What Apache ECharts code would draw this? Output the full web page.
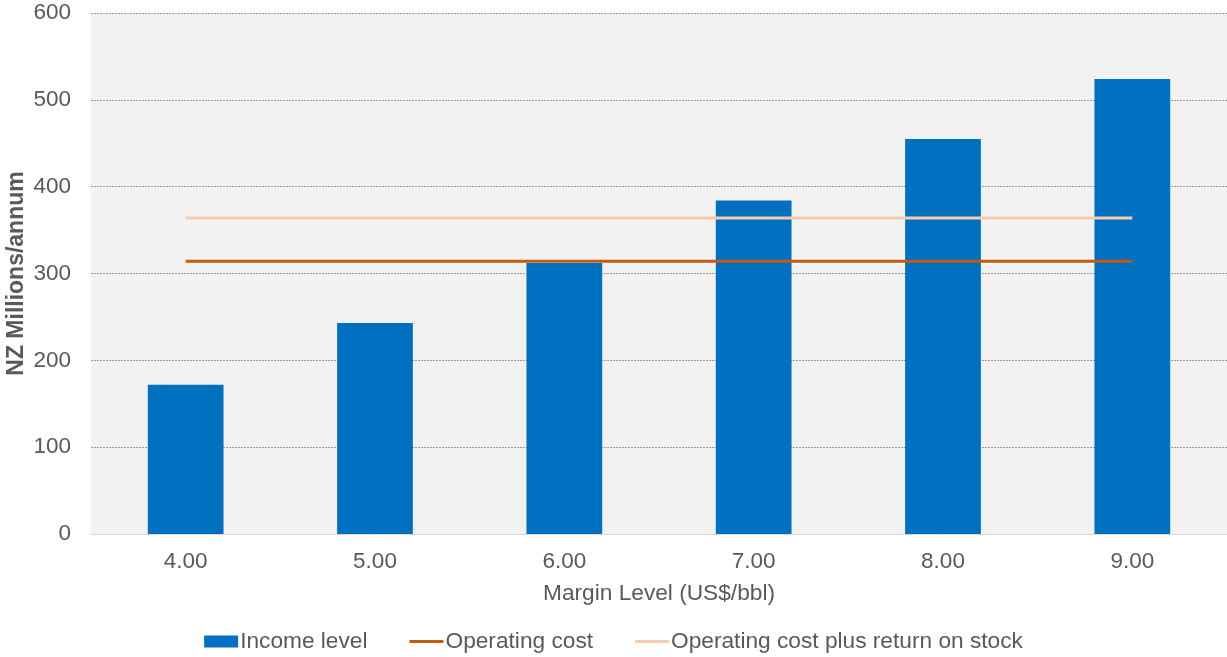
<!DOCTYPE html>
<html>
<head>
<meta charset="utf-8">
<script src="https://cdn.jsdelivr.net/npm/echarts@6/dist/echarts.min.js"></script>
<style>
  html, body { margin: 0; padding: 0; background: #fff; }
  #chart { width: 1227px; height: 657px; }
</style>
</head>
<body>
<div id="chart"></div>
<script>
// data
var margins = ['4.00', '5.00', '6.00', '7.00', '8.00', '9.00'];
var incomeLevel = [172, 243, 312, 384, 455, 524];
var operatingCost = [314, 314, 314, 314, 314, 314];
var costPlusReturn = [364, 364, 364, 364, 364, 364];

var chart = echarts.init(document.getElementById('chart'));
var txt = '#595959';
var font = 'Liberation Sans, Arial, sans-serif';
var lineIcon = 'path://M0,0 L34,0 L34,3 L0,3 Z';

var option = {
  animation: false,
  textStyle: { fontFamily: font },
  grid: { left: 91, right: 0, top: 13, bottom: 123, containLabel: false,
          outerBoundsMode: 'none',
          show: true, backgroundColor: '#f2f2f2', borderWidth: 0 },
  legend: {
    top: 625,
    left: 'center',
    itemGap: 42,
    itemWidth: 34,
    itemHeight: 12,
    textStyle: { color: txt, fontSize: 22.7, fontFamily: font, padding: [0, 0, 0, -3] },
    data: [
      { name: 'Income level', icon: 'rect' },
      { name: 'Operating cost', icon: lineIcon, itemStyle: { color: '#c55a11' } },
      { name: 'Operating cost plus return on stock', icon: lineIcon, itemStyle: { color: '#f8cbad' } }
    ]
  },
  xAxis: {
    type: 'category',
    data: margins,
    name: 'Margin Level (US$/bbl)',
    nameLocation: 'middle',
    nameGap: 48,
    nameMoveOverlap: false,
    nameTextStyle: { color: txt, fontSize: 22.7, fontFamily: font },
    axisLine: { lineStyle: { color: '#d9d9d9', width: 1 } },
    axisTick: { show: false },
    axisLabel: { color: txt, fontSize: 22.5, margin: 16 }
  },
  yAxis: {
    type: 'value',
    min: 0,
    max: 600,
    interval: 100,
    name: 'NZ Millions/annum',
    nameLocation: 'middle',
    nameGap: 63,
    nameMoveOverlap: false,
    nameTextStyle: { color: txt, fontSize: 23, fontWeight: 'bold', fontFamily: font },
    axisLine: { show: false },
    axisTick: { show: false },
    axisLabel: { color: txt, fontSize: 22.5, margin: 20 },
    splitLine: { lineStyle: { color: '#9a9a9a', type: [2, 1], width: 1 } }
  },
  series: [
    {
      name: 'Income level',
      type: 'bar',
      data: incomeLevel,
      barWidth: '40%',
      itemStyle: { color: '#0070c0' },
      z: 2
    },
    {
      name: 'Operating cost',
      type: 'line',
      data: operatingCost,
      symbol: 'none',
      lineStyle: { color: '#c55a11', width: 3 },
      itemStyle: { color: '#c55a11' },
      z: 3
    },
    {
      name: 'Operating cost plus return on stock',
      type: 'line',
      data: costPlusReturn,
      symbol: 'none',
      lineStyle: { color: '#f8cbad', width: 3 },
      itemStyle: { color: '#f8cbad' },
      z: 3
    }
  ]
};
chart.setOption(option);
</script>
</body>
</html>
